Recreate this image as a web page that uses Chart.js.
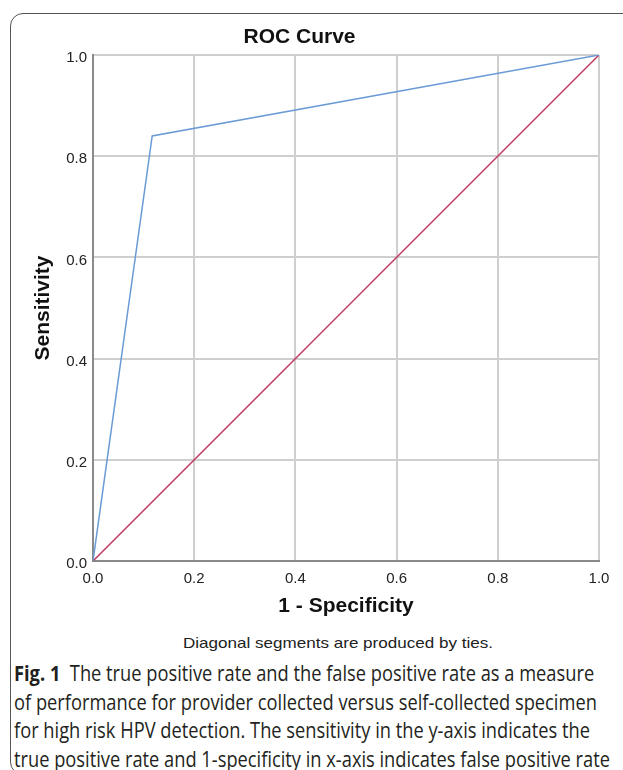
<!DOCTYPE html>
<html>
<head>
<meta charset="utf-8">
<script src="https://cdn.jsdelivr.net/npm/chart.js@4"></script>
<style>
  html, body { margin: 0; padding: 0; background: #fff; }
  body { width: 623px; height: 770px; position: relative; overflow: hidden; }
  #frame {
    position: absolute; left: 10px; top: 13px; width: 640px; height: 760px;
    border: 1.5px solid #555; border-radius: 13px;
  }
  #chart { position: absolute; left: 0; top: 0; }
  #note {
    position: absolute; left: 183px; top: 634px; white-space: nowrap;
    font: 15px "Liberation Sans", Arial, sans-serif; color: #222;
    transform-origin: 0 0;
  }
  #caption {
    position: absolute; left: 14px; top: 659px;
    font: 21px "Open Sans", sans-serif; line-height: 28.5px;
    color: #231f20; white-space: nowrap; transform-origin: 0 0;
  }
  #caption b { font-weight: bold; }
</style>
</head>
<body>
<div id="frame"></div>
<canvas id="chart" width="623" height="619"></canvas>
<div id="note">Diagonal segments are produced by ties.</div>
<div id="caption"><b>Fig. 1</b>&nbsp; The true positive rate and the false positive rate as a measure<br>of performance for provider collected versus self-collected specimen<br>for high risk HPV detection. The sensitivity in the y-axis indicates the<br><span id="lastLine">true positive rate and 1-specificity in x-axis indicates false positive rate</span></div>
<script>
// ROC curve points (1 - specificity, sensitivity)
const fpr = [0, 0.117, 1];
const tpr = [0, 0.84, 1];
// reference diagonal
const refX = [0, 1];
const refY = [0, 1];

const tickFont = { family: "Liberation Sans, Arial, sans-serif", size: 15 };
const titleFont = { family: "Liberation Sans, Arial, sans-serif", size: 21, weight: "bold" };

const pts = (xs, ys) => xs.map((x, i) => ({ x, y: ys[i] }));

// squeeze the text blocks to the widths of the original figure
function fitWidth(el, measureEl, target) {
  const w = measureEl.getBoundingClientRect().width;
  el.style.transform = "scaleX(" + (target / w) + ")";
}
fitWidth(document.getElementById("note"), document.getElementById("note"), 310);
fitWidth(document.getElementById("caption"), document.getElementById("lastLine"), 596);

new Chart(document.getElementById("chart"), {
  type: "scatter",
  data: {
    datasets: [
      {
        label: "ROC",
        data: pts(fpr, tpr),
        showLine: true,
        borderColor: "#6a9bd6",
        borderWidth: 1.5,
        pointRadius: 0
      },
      {
        label: "Reference",
        data: pts(refX, refY),
        showLine: true,
        borderColor: "#c23a5e",
        borderWidth: 1.5,
        pointRadius: 0
      }
    ]
  },
  options: {
    responsive: false,
    animation: false,
    layout: { padding: { left: 0, right: 24, top: 0, bottom: 0 } },
    plugins: {
      legend: { display: false },
      tooltip: { enabled: false },
      title: {
        display: true,
        text: "ROC Curve",
        color: "#111",
        font: titleFont,
        padding: { top: 24.4, bottom: 5.4 }
      }
    },
    scales: {
      x: {
        type: "linear",
        min: 0, max: 1,
        ticks: {
          stepSize: 0.2, color: "#222", font: tickFont, padding: 9,
          callback: v => v.toFixed(1)
        },
        grid: { color: "#cfcfcf", lineWidth: 2, drawTicks: false },
        border: { color: "#8a8a8a", width: 2 },
        title: { display: true, text: "1 - Specificity", color: "#111", font: titleFont, padding: 0 },
        afterFit: s => { s.height = 58; }
      },
      y: {
        type: "linear",
        min: 0, max: 1,
        ticks: {
          stepSize: 0.2, color: "#222", font: tickFont, padding: 6, labelOffset: 3,
          callback: v => v.toFixed(1)
        },
        grid: { color: "#cfcfcf", lineWidth: 2, drawTicks: false },
        border: { color: "#8a8a8a", width: 2 },
        title: { display: true, text: "Sensitivity", color: "#111", font: titleFont, padding: { top: 30.4, bottom: 0 } },
        afterFit: s => { s.width = 93; }
      }
    }
  }
});
</script>
</body>
</html>
